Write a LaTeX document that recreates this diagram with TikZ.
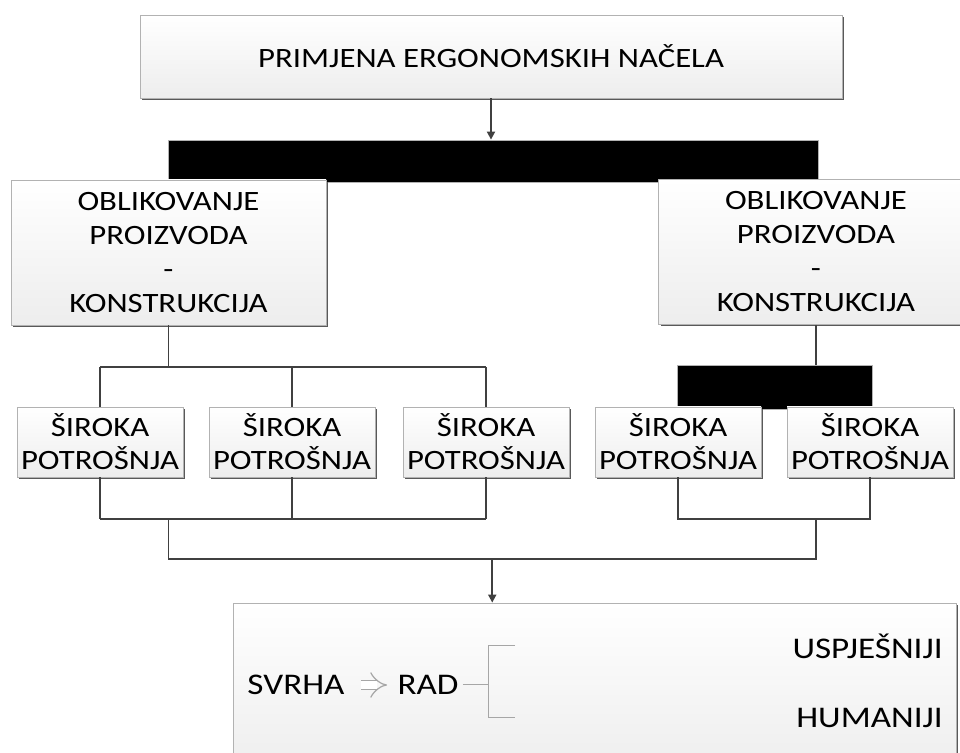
\documentclass[tikz,border=0pt]{standalone}
\usepackage{fontspec}
\setmainfont{Carlito}[FakeStretch=1.17]
\usetikzlibrary{arrows.meta,shadows,calc}
\tikzset{
  okvir/.style={draw=gray!60, top color=white, bottom color=gray!14, align=center, inner sep=0pt,
    drop shadow={shadow xshift=1pt, shadow yshift=-1pt, fill=black!65, opacity=1}},
  velikiokvir/.style={okvir, minimum width=157.5pt, minimum height=72.5pt, font=\fontsize{14}{17}\selectfont},
  malaokvir/.style={okvir, minimum width=83pt, minimum height=35pt, font=\fontsize{14}{16.5}\selectfont},
  traka/.style={draw=gray!60, fill=black, inner sep=0pt},
  tekst/.style={font=\fontsize{15}{17}\selectfont, inner sep=2pt},
  veza/.style={draw=black!75, line width=0.9pt},
  strelica/.style={veza, -{Triangle[length=4pt, width=4pt]}},
  tanka/.style={draw=gray!70, line width=0.5pt},
  dvostruka/.style={draw=gray!70, line width=0.6pt, double=white, double distance=4pt, -Implies}
}
\begin{document}
\begin{tikzpicture}[x=0.5pt, y=-0.5pt]
\useasboundingbox (0,0) rectangle (960,753);
\clip (0,0) rectangle (960,753);
\node[okvir, minimum width=351pt, minimum height=41.5pt, font=\fontsize{14}{17}\selectfont] (nacela) at (491,56.5) {PRIMJENA ERGONOMSKIH NAČELA};
\node[traka, minimum width=325pt, minimum height=21pt] (traka1) at (493,161) {};
\draw[strelica] (nacela.south) -- (nacela.south |- traka1.north);
\node[velikiokvir] (oblik1) at (168.5,252.5) {OBLIKOVANJE\\PROIZVODA\\-\\KONSTRUKCIJA};
\node[velikiokvir] (oblik2) at (816,252) {OBLIKOVANJE\\PROIZVODA\\-\\KONSTRUKCIJA};
\node[traka, minimum width=97.5pt, minimum height=22pt] (traka2) at (774.5,387) {};
\foreach \i/\x in {1/100, 2/292, 3/486, 4/678, 5/870}
  \node[malaokvir] (s\i) at (\x,442) {ŠIROKA\\POTROŠNJA};
%% lijeva grana
\coordinate (gore) at (0,367);
\coordinate (dolje) at (0,519);
\coordinate (sabir) at (0,559);
\draw[veza] (oblik1.south) -- (oblik1.south |- gore);
\draw[veza] (s1.north |- gore) -- (s3.north |- gore);
\draw[veza] (s1.south |- dolje) -- (s3.south |- dolje);
\foreach \i in {1,2,3} {
  \draw[veza] (s\i.north) -- (s\i.north |- gore);
  \draw[veza] (s\i.south) -- (s\i.south |- dolje);
}
%% desna grana
\draw[veza] (oblik2.south) -- (oblik2.south |- traka2.north);
\draw[veza] (s4.south) |- (s5.south |- dolje) -- (s5.south);
\draw[veza] (oblik1.south |- dolje) -- (oblik1.south |- sabir) -- (oblik2.south |- sabir) -- (oblik2.south |- dolje);
%% svrha
\node[okvir, minimum width=361.5pt, minimum height=86pt] (svrhabox) at (594.5,689) {};
\coordinate (sredina) at ($(oblik1.south |- sabir)!0.5!(oblik2.south |- sabir)$);
\draw[strelica] (sredina) -- (sredina |- svrhabox.north);
\node[tekst] (svrha) at (296,685) {SVRHA};
\node[tekst] (rad) at (428,685) {RAD};
\node[tekst, anchor=east] (usp) at (947,646) {USPJEŠNIJI};
\node[tekst, anchor=east] (hum) at (947,718) {HUMANIJI};
\draw[dvostruka, shorten <=6pt, shorten >=3pt] (svrha.east) -- (rad.west);
\coordinate (grana) at (488,685);
\draw[tanka] (rad.east) -- (grana);
\draw[tanka] ($(grana |- usp)+(27,0)$) -| (grana |- hum) -- ++(27,0);
\end{tikzpicture}
\end{document}
